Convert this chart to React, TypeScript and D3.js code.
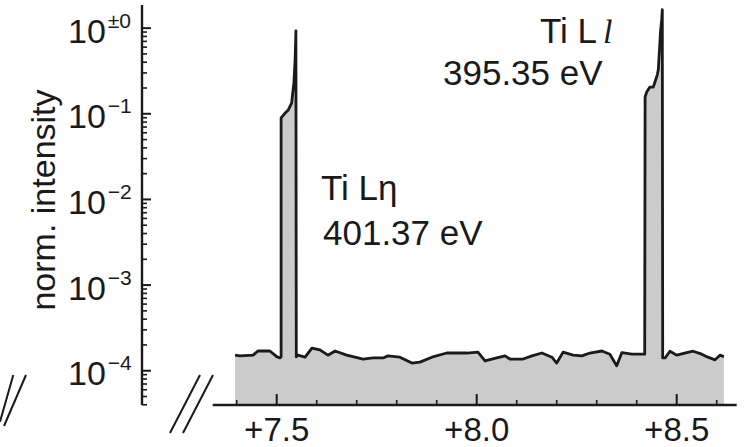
import React from 'react';
import * as d3 from 'd3';

// energy offset (keV) and normalised intensity
const energy = [
  7.396, 7.408, 7.441, 7.453, 7.483, 7.5, 7.508, 7.511,
  7.511, 7.521, 7.529, 7.5375, 7.539, 7.543, 7.546, 7.5475, 7.548, 7.549,
  7.553, 7.571, 7.588, 7.608, 7.628, 7.646, 7.675, 7.716, 7.741, 7.766,
  7.778, 7.808, 7.838, 7.858, 7.888, 7.925, 7.975, 8.003, 8.021, 8.05,
  8.071, 8.083, 8.116, 8.138, 8.163, 8.188, 8.2, 8.216, 8.241, 8.263,
  8.283, 8.313, 8.333, 8.35, 8.363, 8.388, 8.42,
  8.421, 8.425, 8.433, 8.4415, 8.446, 8.4515, 8.454, 8.4565, 8.458, 8.4595, 8.4625, 8.464, 8.465,
  8.471, 8.483, 8.5, 8.525, 8.541, 8.5625, 8.578, 8.596, 8.608, 8.618,
];
const intensity = [
  1.52e-4, 1.49e-4, 1.52e-4, 1.7e-4, 1.7e-4, 1.46e-4, 1.41e-4, 1.45e-4,
  0.0896, 0.102, 0.111, 0.134, 0.157, 0.23, 0.426, 0.73, 0.93, 1.45e-4,
  1.52e-4, 1.44e-4, 1.84e-4, 1.75e-4, 1.52e-4, 1.7e-4, 1.52e-4, 1.37e-4, 1.41e-4, 1.41e-4,
  1.49e-4, 1.44e-4, 1.23e-4, 1.26e-4, 1.44e-4, 1.61e-4, 1.61e-4, 1.65e-4, 1.3e-4, 1.41e-4,
  1.49e-4, 1.37e-4, 1.37e-4, 1.49e-4, 1.61e-4, 1.44e-4, 1.23e-4, 1.65e-4, 1.52e-4, 1.49e-4,
  1.61e-4, 1.7e-4, 1.56e-4, 1.14e-4, 1.63e-4, 1.56e-4, 1.56e-4,
  0.157, 0.18, 0.205, 0.205, 0.238, 0.285, 0.326, 0.514, 0.673, 0.912, 1.25, 1.64, 1.41e-4,
  1.41e-4, 1.69e-4, 1.52e-4, 1.63e-4, 1.69e-4, 1.56e-4, 1.44e-4, 1.34e-4, 1.52e-4, 1.46e-4,
];

const xMajor = [7.5, 8.0, 8.5];
const xLabels = ['+7.5', '+8.0', '+8.5'];
const yMajor = [1, 1e-1, 1e-2, 1e-3, 1e-4];
const yExponents = ['\u00b10', '\u22121', '\u22122', '\u22123', '\u22124'];

const W = 749;
const H = 447;
const FONT = '"Liberation Sans", Arial, sans-serif';
const INK = '#1a1a1a';

const App: React.FC = () => {
  const x = d3.scaleLinear().domain([7.34, 8.65]).range([212.7, 736.7]);
  const y = d3.scaleLog().domain([Math.pow(10, -4.4), Math.pow(10, 0.27)]).range([405, 5]);

  const pts = energy.map((e, i) => [e, intensity[i]] as [number, number]);
  const yBottom = y.range()[0];

  const area = d3.area<[number, number]>()
    .x(d => x(d[0]))
    .y0(yBottom)
    .y1(d => y(d[1]));
  const line = d3.line<[number, number]>()
    .x(d => x(d[0]))
    .y(d => y(d[1]));

  const xMinor = x.ticks(13).filter(t => !xMajor.some(m => Math.abs(m - t) < 1e-6));
  const yMinor = y.ticks().filter(t => t <= 1.0001 && !yMajor.some(m => Math.abs(m - t) / m < 1e-6));

  const axisX = 142;

  return (
    <svg width={W} height={H} style={{ position: 'fixed', left: 0, top: 0, background: '#fff' }}>
      <rect width={W} height={H} fill="#fff" />
      {/* spectrum */}
      <path d={area(pts) || ''} fill="#cbcbcb" />
      <path d={line(pts) || ''} fill="none" stroke={INK} strokeWidth={2.8} strokeLinejoin="round" />

      {/* y axis */}
      <line x1={axisX} x2={axisX} y1={y.range()[1]} y2={yBottom} stroke={INK} strokeWidth={2.4} />
      {yMajor.map(t => (
        <line key={'ym' + t} x1={axisX} x2={axisX + 9} y1={y(t)} y2={y(t)} stroke={INK} strokeWidth={2} />
      ))}
      {yMinor.map(t => (
        <line key={'yn' + t} x1={axisX} x2={axisX + 5} y1={y(t)} y2={y(t)} stroke={INK} strokeWidth={1.6} />
      ))}
      {yMajor.map((t, i) => (
        <text key={'yl' + t} x={68} y={y(t) + 14.5} fontFamily={FONT} fontSize={34} fill={INK}>
          10
          <tspan dx={2} dy={-15} fontSize={21}>{yExponents[i]}</tspan>
        </text>
      ))}
      <text
        transform={`translate(55,200) rotate(-90)`}
        textAnchor="middle"
        fontFamily={FONT}
        fontSize={34}
        fill={INK}
      >
        norm. intensity
      </text>

      {/* x axis */}
      <line x1={x.range()[0]} x2={x.range()[1]} y1={405} y2={405} stroke={INK} strokeWidth={2.4} />
      {xMajor.map(t => (
        <line key={'xm' + t} x1={x(t)} x2={x(t)} y1={405} y2={394} stroke={INK} strokeWidth={2} />
      ))}
      {xMinor.map(t => (
        <line key={'xn' + t} x1={x(t)} x2={x(t)} y1={405} y2={400} stroke={INK} strokeWidth={1.6} />
      ))}
      {xMajor.map((t, i) => (
        <text key={'xl' + t} x={x(t)} y={441} textAnchor="middle" fontFamily={FONT} fontSize={33} fill={INK}>
          {xLabels[i]}
        </text>
      ))}

      {/* axis breaks */}
      <g stroke={INK} strokeWidth={2}>
        <line x1={0} y1={421.7} x2={13.3} y2={375} />
        <line x1={4} y1={426} x2={26} y2={375} />
        <line x1={170} y1={433} x2={200} y2={375} />
        <line x1={183} y1={433} x2={213} y2={375} />
      </g>

      {/* annotations */}
      <text x={321} y={200} fontFamily={FONT} fontSize={35} fill={INK}>
        Ti L<tspan>{'\u03b7'}</tspan>
      </text>
      <text x={323} y={245} fontFamily={FONT} fontSize={35} fill={INK}>401.37 eV</text>
      <text x={540} y={43} fontFamily={FONT} fontSize={35} fill={INK}>
        Ti L
        <tspan dx={6} fontFamily='"Liberation Serif", "DejaVu Serif", serif' fontStyle="italic" fontSize={34}>l</tspan>
      </text>
      <text x={443} y={85} fontFamily={FONT} fontSize={35} fill={INK}>395.35 eV</text>
    </svg>
  );
};

export default App;
